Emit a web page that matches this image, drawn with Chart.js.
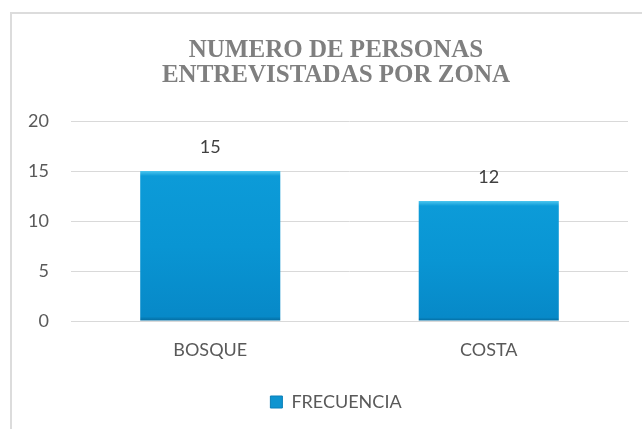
<!DOCTYPE html>
<html>
<head>
<meta charset="utf-8">
<script src="https://cdn.jsdelivr.net/npm/chart.js@4"></script>
<style>
  html, body { margin: 0; padding: 0; background: #fff; overflow: hidden; }
  #wrap { position: relative; width: 642px; height: 429px; }
  #frame { position: absolute; left: 10px; top: 12px; width: 700px; height: 500px;
           border: 2px solid #dcdcdc; box-sizing: border-box; }
  canvas { position: absolute; left: 0; top: 0; }
</style>
</head>
<body>
<div id="wrap">
  <div id="frame"></div>
  <canvas id="myChart" width="642" height="429"></canvas>
</div>
<script>
const zonas = ["BOSQUE", "COSTA"];
const frecuencia = [15, 12];
const yTicks = [0, 5, 10, 15, 20];
const tituloLineas = ["NUMERO DE PERSONAS", "ENTREVISTADAS POR ZONA"];

// bar fill with a little bevel on top
function barFill(context) {
  const chart = context.chart;
  const area = chart.chartArea;
  if (!area) return "#0795d2";
  const y = chart.scales.y;
  const v = context.raw;
  const top = y.getPixelForValue(v);
  const bottom = y.getPixelForValue(0);
  const h = Math.max(bottom - top, 1);
  const g = chart.ctx.createLinearGradient(0, top, 0, bottom);
  g.addColorStop(0, "#4cc6ef");
  g.addColorStop(Math.min(5 / h, 1), "#0c9bd8");
  g.addColorStop(0.5, "#0995d3");
  g.addColorStop(0.97, "#0789c8");
  g.addColorStop(1, "#04699c");
  return g;
}

const valueLabels = {
  id: "valueLabels",
  afterDatasetsDraw(chart) {
    const ctx = chart.ctx;
    const meta = chart.getDatasetMeta(0);
    ctx.save();
    ctx.font = "18px Lato";
    ctx.fillStyle = "#404040";
    ctx.textAlign = "center";
    ctx.textBaseline = "middle";
    meta.data.forEach((bar, i) => {
      ctx.fillText(String(chart.data.datasets[0].data[i]), bar.x, bar.y - 24);
    });
    ctx.restore();
  }
};

// title and legend are centred a bit right of the canvas middle
const shiftBoxes = {
  id: "shiftBoxes",
  afterLayout(chart) {
    if (chart.titleBlock) chart.titleBlock.left = 44;
    if (chart.legend) chart.legend.left = 44;
  }
};

const ctx = document.getElementById("myChart").getContext("2d");
const myChart = new Chart(ctx, {
  type: "bar",
  data: {
    labels: zonas,
    datasets: [
      {
        label: "FRECUENCIA",
        data: frecuencia,
        backgroundColor: barFill,
        borderWidth: 0,
        categoryPercentage: 1,
        barPercentage: 0.503,
      },
    ],
  },
  options: {
    responsive: false,
    animation: false,
    layout: { padding: { left: 0, right: 14, top: 0, bottom: 8 } },
    scales: {
      x: {
        afterFit(scale) { scale.height = 62; },
        grid: { display: false, drawTicks: false },
        border: { display: true, color: "#d9d9d9", width: 1 },
        ticks: { color: "#595959", font: { family: "Lato", size: 18 }, padding: 18 },
      },
      y: {
        min: 0,
        max: 20,
        afterBuildTicks(scale) {
          scale.ticks = yTicks.map(v => ({ value: v }));
        },
        afterFit(scale) { scale.width = 71; },
        grid: { color: "#d9d9d9", lineWidth: 1, drawTicks: false },
        border: { display: false },
        ticks: { color: "#595959", font: { family: "Lato", size: 18 }, padding: 22 },
      },
    },
    plugins: {
      title: {
        display: true,
        text: tituloLineas,
        color: "#7f7f7f",
        font: { family: "Liberation Serif", size: 25, weight: "bold", lineHeight: 1.0 },
        padding: { top: 38, bottom: 33 },
      },
      legend: {
        position: "bottom",
        labels: {
          color: "#595959",
          font: { family: "Lato", size: 18 },
          boxWidth: 12,
          boxHeight: 12,
          padding: 10,
          generateLabels(chart) {
            return [{
              text: chart.data.datasets[0].label,
              fillStyle: "#0e94d0",
              strokeStyle: "#0a7fb8",
              lineWidth: 1,
              fontColor: "#595959",
              datasetIndex: 0,
            }];
          },
        },
      },
      tooltip: { enabled: false },
    },
  },
  plugins: [valueLabels, shiftBoxes],
});
</script>
</body>
</html>
